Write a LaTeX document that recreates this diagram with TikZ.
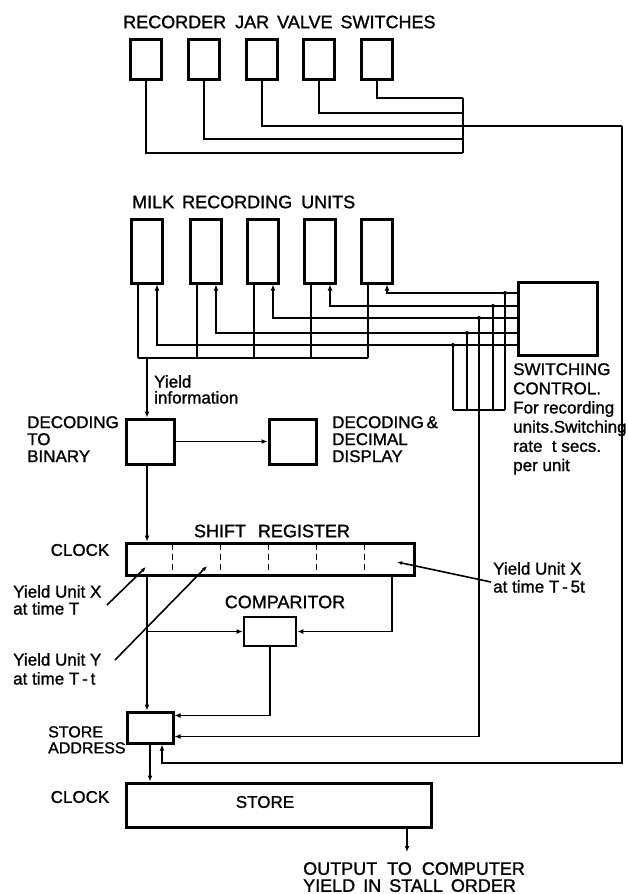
\documentclass[tikz,border=0pt]{standalone}
\usepackage{fontspec}
\setmainfont{Liberation Sans}[BoldFont=Liberation Sans, BoldFeatures={FakeBold=1.2}]
\usetikzlibrary{calc,arrows.meta}

\begin{document}
\begin{tikzpicture}[x=1pt,y=-1pt,>={Latex[length=6pt,width=5pt]},
        unit/.style={draw, line width=3pt, inner sep=0pt},
        wire/.style={line width=1.8pt},
        lead/.style={line width=1.6pt, -{Latex[length=5pt,width=4pt]}},
        lbl/.style={inner sep=0pt, align=left, font=\fontsize{17}{17}\selectfont\bfseries},
        ttl/.style={inner sep=0pt, font=\fontsize{18}{20}\selectfont\bfseries}]
        \useasboundingbox (0,0) rectangle (628,894);

        % Recorder jar valve switches
        \node[ttl, anchor=west] (titlesw) at (123,22) {RECORDER\hspace{9pt}JAR\hspace{8pt}VALVE\hspace{8pt}SWITCHES};
        \foreach \i/\x/\y in {1/146/153,2/204/139,3/262/126,4/319/113,5/377/98}{
            \node[unit, minimum width=31pt, minimum height=40pt] (sw\i) at (\x,59) {};
            \coordinate (jb\i) at (463,\y);
            \draw[wire] (sw\i.south) |- (jb\i);
        }
        \draw[wire] (jb5) -- (jb1);
        \coordinate (jr) at (622,126);
        \draw[wire] (jb3) -- (jr);

        % Milk recording units and switching control
        \node[ttl, anchor=west] (titlemu) at (132,202) {MILK\hspace{8pt}RECORDING\hspace{9pt}UNITS};
        \node[unit, minimum width=79pt, minimum height=73pt] (sc) at (557.5,318.5) {};
        \coordinate (mb) at (138,358);
        \coordinate (sb) at (453,410);
        \foreach \i/\x/\y/\d in {1/147/345/453,2/206/333/467,3/263/318/479,4/320/306/493,5/377/293/505}{
            \node[unit, minimum width=31pt, minimum height=64pt] (mu\i) at (\x,251) {};
            \coordinate (mo\i) at ($(mu\i.south)+(-9,0)$);
            \coordinate (mi\i) at ($(mu\i.south)+(10,0)$);
            \coordinate (sl\i) at (sc.west |- {0,\y});
            \coordinate (dp\i) at (\d,\y);
            \draw[wire] (mo\i) -- (mo\i |- mb);
            \draw[wire,->] (sl\i) -| (mi\i);
            \draw[wire] (dp\i) -- (dp\i |- sb);
            \fill (dp\i) circle (2pt);
        }
        \draw[wire] (mb) -- (mo5 |- mb);
        \draw[wire] (dp1 |- sb) -- (dp5 |- sb);

        \node[lbl, anchor=north west, font=\fontsize{17}{19.2}\selectfont\bfseries] (sctxt) at (513,363)
            {SWITCHING\\CONTROL.\\For recording\\units.Switching\\rate\ \ t secs.\\per unit};

        % Decoding
        \node[unit, minimum width=48pt, minimum height=45pt] (dec) at (150,441.5) {};
        \node[unit, minimum width=47pt, minimum height=45pt] (disp) at (292.5,441.5) {};
        \coordinate (yi) at (147,358);
        \draw[wire,->] (yi) -- (yi |- dec.north);
        \draw[wire,->] (dec.east) -- (disp.west);
        \node[lbl, anchor=north west, font=\fontsize{17}{16}\selectfont\bfseries] (yinfo) at (154,375) {Yield\\information};
        \node[lbl, anchor=north west] (dectxt) at (27,416) {DECODING\\TO\\BINARY};
        \node[lbl, anchor=north west] (disptxt) at (332,416) {DECODING\,\&\\DECIMAL\\DISPLAY};

        % Shift register
        \node[unit, minimum width=288pt, minimum height=32pt] (sr) at (270,559) {};
        \foreach \k in {1,...,5}
            \draw[line width=1.6pt, dash pattern=on 6pt off 4pt]
                ($(sr.north west)+(48*\k,2)$) -- ($(sr.south west)+(48*\k,-2)$);
        \draw[wire,->] (yi |- dec.south) -- (yi |- sr.north);
        \node[ttl] (srtxt) at (272,531) {SHIFT\hspace{12pt}REGISTER};
        \node[lbl] (clk1) at (80,550) {CLOCK};

        % Comparitor and store address
        \node[unit, line width=2.6pt, minimum width=52pt, minimum height=29pt] (cmp) at (270,631.5) {};
        \node[ttl] (cmptxt) at (285,602) {COMPARITOR};
        \node[unit, minimum width=46pt, minimum height=31pt] (sa) at (150,727.5) {};
        \node[lbl, anchor=north west, font=\fontsize{16}{16}\selectfont\bfseries] (satxt) at (48,726) {STORE\\ADDRESS};
        \coordinate (lr) at (392,575);
        \draw[wire,->] (yi |- sr.south) -- (yi |- sa.north);
        \draw[wire,->] (yi |- cmp.west) -- (cmp.west);
        \draw[wire,->] (lr) |- (cmp.east);
        \draw[wire,->] (cmp.south) |- ($(sa.north east)+(0,5)$);
        \draw[wire,->] (dp3 |- sb) |- ($(sa.south east)+(0,-8)$);

        % Pointers to the register cells
        \node[lbl, anchor=north west] (ux) at (13,585) {Yield Unit X\\at time T};
        \node[lbl, anchor=north west, font=\fontsize{17}{19}\selectfont\bfseries] (uy) at (13,653) {Yield Unit Y\\at time T\,-\,t};
        \node[lbl, anchor=north west, font=\fontsize{17}{18}\selectfont\bfseries] (u5) at (493,562) {Yield Unit X\\at time T\,-\,5t};
        \coordinate (px) at (146,567);
        \coordinate (py) at (207,566);
        \coordinate (p5) at (397,562);
        \draw[lead] (107,605) -- (px);
        \draw[lead] (115,660) -- (py);
        \draw[lead] (491,582) -- (p5);

        % Store
        \node[unit, minimum width=305pt, minimum height=44pt] (st) at (278.5,805) {};
        \node[lbl] (sttxt) at (265,802) {STORE};
        \node[lbl] (clk2) at (80,797) {CLOCK};
        \coordinate (sab) at (162,763);
        \draw[wire,->] (sa.south) -- (sa.south |- st.north);
        \draw[wire,->] (jr) |- (sab) -- (sab |- sa.south);
        \coordinate (out) at (407,852);
        \draw[wire,->] (out |- st.south) -- (out);
        \node[lbl, anchor=north west, font=\fontsize{18}{17}\selectfont\bfseries] (outtxt) at (303,862)
            {OUTPUT\hspace{10pt}TO\hspace{10pt}COMPUTER\\YIELD\hspace{8pt}IN\hspace{8pt}STALL\hspace{8pt}ORDER};
    \end{tikzpicture}
\end{document}
